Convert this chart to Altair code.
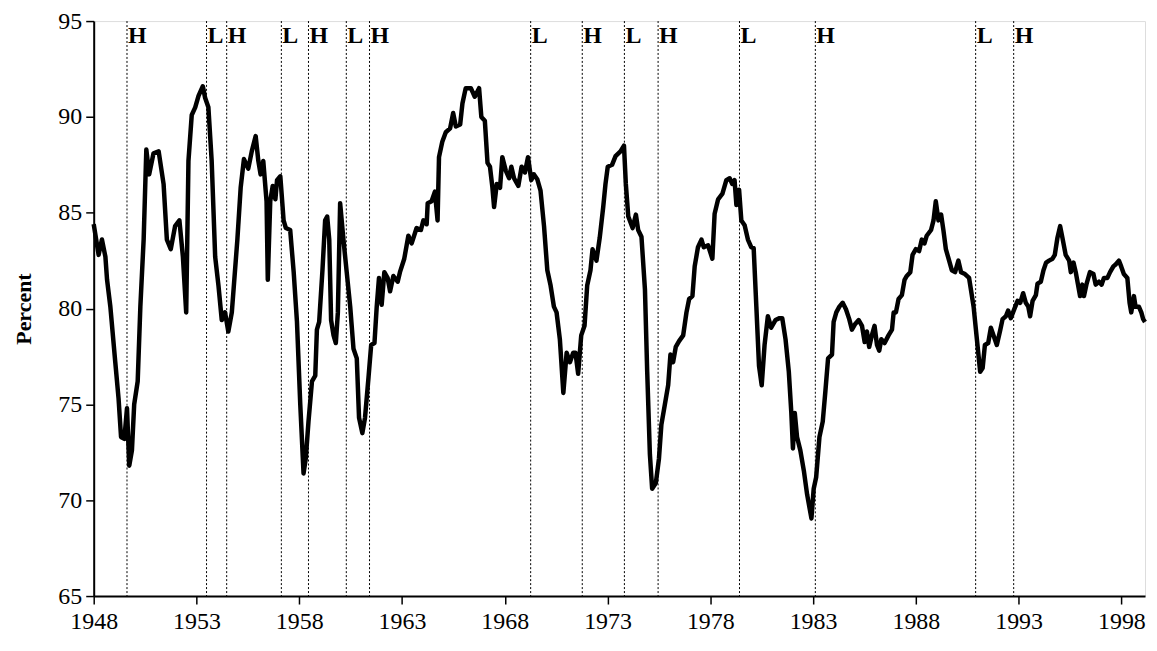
import altair as alt
import pandas as pd

# Capacity utilization (percent)
years = [
    1948.00, 1948.24, 1948.40, 1948.57, 1948.65, 1948.81, 1949.05, 1949.21, 1949.33, 1949.49,
    1949.62, 1949.73, 1949.86, 1949.97, 1950.14, 1950.27, 1950.43, 1950.56, 1950.70, 1950.91,
    1951.16, 1951.40, 1951.56, 1951.75, 1951.96, 1952.17, 1952.34, 1952.50, 1952.61, 1952.77,
    1952.94, 1953.10, 1953.31, 1953.42, 1953.58, 1953.74, 1953.91, 1954.07, 1954.23, 1954.39,
    1954.55, 1954.72, 1954.99, 1955.15, 1955.31, 1955.52, 1955.69, 1955.88, 1956.01, 1956.12,
    1956.25, 1956.41, 1956.47, 1956.59, 1956.71, 1956.84, 1956.92, 1957.08, 1957.24, 1957.35,
    1957.56, 1957.73, 1957.89, 1958.05, 1958.21, 1958.32, 1958.45, 1958.62, 1958.78, 1958.86,
    1958.97, 1959.13, 1959.26, 1959.36, 1959.46, 1959.55, 1959.67, 1959.78, 1959.88, 1959.99,
    1960.15, 1960.31, 1960.48, 1960.64, 1960.80, 1960.91, 1961.07, 1961.20, 1961.37, 1961.50,
    1961.66, 1961.77, 1961.88, 1962.01, 1962.14, 1962.30, 1962.42, 1962.58, 1962.79, 1962.90,
    1963.11, 1963.31, 1963.47, 1963.71, 1963.92, 1964.04, 1964.20, 1964.25, 1964.44, 1964.60,
    1964.73, 1964.80, 1964.96, 1965.13, 1965.34, 1965.49, 1965.62, 1965.83, 1965.94, 1966.10,
    1966.35, 1966.54, 1966.75, 1966.86, 1967.03, 1967.16, 1967.28, 1967.40, 1967.48, 1967.61,
    1967.77, 1967.88, 1968.05, 1968.21, 1968.32, 1968.45, 1968.66, 1968.82, 1968.98, 1969.13,
    1969.29, 1969.42, 1969.58, 1969.74, 1969.91, 1970.07, 1970.23, 1970.39, 1970.52, 1970.68,
    1970.85, 1971.01, 1971.17, 1971.33, 1971.44, 1971.57, 1971.72, 1971.88, 1972.01, 1972.17,
    1972.27, 1972.46, 1972.62, 1972.79, 1972.90, 1973.01, 1973.22, 1973.39, 1973.63, 1973.80,
    1973.89, 1974.01, 1974.22, 1974.38, 1974.49, 1974.65, 1974.82, 1974.93, 1975.06, 1975.17,
    1975.35, 1975.50, 1975.62, 1975.79, 1975.95, 1976.06, 1976.19, 1976.32, 1976.48, 1976.68,
    1976.84, 1976.97, 1977.13, 1977.24, 1977.40, 1977.57, 1977.68, 1977.89, 1978.10, 1978.21,
    1978.38, 1978.59, 1978.78, 1978.94, 1979.07, 1979.18, 1979.27, 1979.40, 1979.51, 1979.67,
    1979.83, 1979.99, 1980.11, 1980.24, 1980.37, 1980.50, 1980.64, 1980.80, 1980.96, 1981.17,
    1981.37, 1981.50, 1981.66, 1981.82, 1981.94, 1982.02, 1982.11, 1982.22, 1982.38, 1982.55,
    1982.71, 1982.92, 1983.03, 1983.15, 1983.31, 1983.47, 1983.60, 1983.73, 1983.92, 1984.00,
    1984.13, 1984.28, 1984.44, 1984.60, 1984.76, 1984.89, 1985.05, 1985.22, 1985.38, 1985.51,
    1985.62, 1985.73, 1985.86, 1985.99, 1986.11, 1986.22, 1986.32, 1986.48, 1986.67, 1986.84,
    1986.92, 1987.03, 1987.16, 1987.32, 1987.45, 1987.56, 1987.73, 1987.84, 1988.00, 1988.16,
    1988.29, 1988.42, 1988.53, 1988.74, 1988.86, 1988.97, 1989.10, 1989.23, 1989.34, 1989.46,
    1989.62, 1989.75, 1989.91, 1990.07, 1990.20, 1990.39, 1990.59, 1990.81, 1990.97, 1991.13,
    1991.25, 1991.36, 1991.52, 1991.65, 1991.78, 1991.94, 1992.11, 1992.22, 1992.38, 1992.49,
    1992.62, 1992.79, 1992.95, 1993.08, 1993.22, 1993.35, 1993.47, 1993.56, 1993.68, 1993.84,
    1993.92, 1994.08, 1994.21, 1994.34, 1994.48, 1994.65, 1994.76, 1994.89, 1995.02, 1995.13,
    1995.29, 1995.46, 1995.54, 1995.67, 1995.78, 1995.89, 1995.99, 1996.10, 1996.18, 1996.31,
    1996.47, 1996.64, 1996.75, 1996.91, 1997.04, 1997.15, 1997.32, 1997.45, 1997.61, 1997.72,
    1997.88, 1997.99, 1998.12, 1998.29, 1998.40, 1998.48, 1998.61, 1998.69, 1998.85, 1998.97,
    1999.06, 1999.15,
]
values = [
    84.4, 82.8, 83.6, 82.7, 81.5, 80.1, 77.2, 75.3, 73.3, 73.2,
    74.8, 71.8, 72.6, 75.0, 76.2, 80.1, 83.6, 88.3, 87.0, 88.1,
    88.2, 86.5, 83.6, 83.1, 84.3, 84.6, 82.7, 79.8, 87.7, 90.1,
    90.5, 91.1, 91.6, 91.0, 90.5, 87.7, 82.7, 81.2, 79.4, 79.8,
    78.8, 79.8, 83.6, 86.3, 87.8, 87.3, 88.2, 89.0, 87.7, 87.0,
    87.7, 85.6, 81.5, 85.6, 86.4, 85.7, 86.7, 86.9, 84.6, 84.2,
    84.1, 81.9, 79.3, 75.0, 71.4, 72.2, 74.1, 76.2, 76.5, 78.9,
    79.3, 82.0, 84.6, 84.8, 83.6, 79.4, 78.6, 78.2, 79.8, 85.5,
    83.6, 81.9, 80.1, 77.9, 77.4, 74.3, 73.5, 74.3, 76.4, 78.1,
    78.2, 80.1, 81.6, 80.2, 81.9, 81.6, 80.9, 81.7, 81.4, 81.9,
    82.6, 83.8, 83.4, 84.2, 84.1, 84.6, 84.4, 85.5, 85.6, 86.1,
    84.6, 87.9, 88.7, 89.2, 89.4, 90.2, 89.5, 89.6, 90.7, 91.5,
    91.5, 91.05, 91.5, 90.0, 89.8, 87.6, 87.4, 86.3, 85.3, 86.5,
    86.3, 87.9, 87.2, 86.8, 87.4, 86.8, 86.4, 87.4, 87.1, 87.9,
    86.7, 87.0, 86.75, 86.15, 84.3, 82.0, 81.2, 80.1, 79.8, 78.4,
    75.6, 77.7, 77.2, 77.7, 77.7, 76.6, 78.6, 79.1, 81.2, 82.0,
    83.1, 82.5, 83.7, 85.3, 86.5, 87.4, 87.5, 87.95, 88.2, 88.5,
    86.5, 84.8, 84.2, 84.9, 84.1, 83.75, 81.0, 76.7, 72.4, 70.6,
    70.9, 72.15, 73.95, 75.0, 76.0, 77.6, 77.2, 78.0, 78.3, 78.6,
    79.8, 80.5, 80.65, 82.2, 83.2, 83.6, 83.2, 83.3, 82.6, 84.95,
    85.7, 86.0, 86.7, 86.8, 86.5, 86.7, 85.4, 86.2, 84.6, 84.35,
    83.6, 83.2, 83.15, 80.1, 77.0, 76.0, 78.1, 79.6, 79.0, 79.4,
    79.5, 79.5, 78.4, 76.7, 74.6, 72.7, 74.55, 73.3, 72.6, 71.55,
    70.3, 69.05, 70.6, 71.2, 73.3, 74.1, 75.7, 77.4, 77.6, 79.3,
    79.8, 80.1, 80.3, 79.96, 79.45, 78.9, 79.2, 79.4, 79.1, 78.25,
    78.8, 78.0, 78.6, 79.1, 78.1, 77.8, 78.4, 78.2, 78.6, 78.9,
    79.8, 79.8, 80.5, 80.7, 81.5, 81.7, 81.9, 82.8, 83.1, 83.0,
    83.6, 83.4, 83.8, 84.1, 84.6, 85.6, 84.6, 84.9, 84.1, 83.1,
    82.5, 82.0, 81.9, 82.5, 81.9, 81.8, 81.6, 80.1, 78.4, 76.7,
    76.9, 78.1, 78.2, 79.0, 78.6, 78.1, 78.9, 79.45, 79.6, 79.9,
    79.5, 79.97, 80.4, 80.3, 80.8, 80.3, 80.1, 79.6, 80.4, 80.7,
    81.3, 81.4, 82.0, 82.4, 82.5, 82.6, 82.8, 83.7, 84.3, 83.7,
    82.8, 82.5, 81.9, 82.4, 81.9, 81.25, 80.65, 81.25, 80.65, 81.3,
    81.9, 81.8, 81.25, 81.4, 81.25, 81.6, 81.6, 81.9, 82.2, 82.3,
    82.5, 82.2, 81.8, 81.6, 80.3, 79.8, 80.65, 80.1, 80.1, 79.8,
    79.45, 79.3,
]

# Marker lines (H / L)
marker_years = [1949.62, 1953.49, 1954.47, 1957.13, 1958.45, 1960.29, 1961.42,
                1969.26, 1971.77, 1973.82, 1975.46, 1979.42, 1983.11, 1990.91, 1992.76]
marker_labels = ["H", "L", "H", "L", "H", "L", "H", "L", "H", "L", "H", "L", "H", "L", "H"]

x_ticks = [1948, 1953, 1958, 1963, 1968, 1973, 1978, 1983, 1988, 1993, 1998]
y_ticks = [65, 70, 75, 80, 85, 90, 95]

FONT = "Liberation Serif"

df = pd.DataFrame({"year": years, "value": values})
mk = pd.DataFrame({"year": marker_years, "label": marker_labels})

xscale = alt.Scale(domain=[1948, 1999.15], nice=False, zero=False)
yscale = alt.Scale(domain=[65, 95], nice=False, zero=False)

xaxis = alt.Axis(values=x_ticks, format="d", title=None, grid=False,
                 labelFont=FONT, labelFontSize=24, labelColor="black",
                 labelFlush=False, labelOverlap=False,
                 tickSize=8, tickColor="black", tickWidth=1.5,
                 domainColor="black", domainWidth=2, labelPadding=6)
yaxis = alt.Axis(values=y_ticks, title="Percent", grid=False,
                 labelFont=FONT, labelFontSize=24, labelColor="black",
                 labelFlush=False, labelOverlap=False,
                 tickSize=8, tickColor="black", tickWidth=1.5,
                 domainColor="black", domainWidth=2, labelPadding=4,
                 titleFont=FONT, titleFontSize=22, titleFontWeight="bold",
                 titleColor="black", titlePadding=22)

rules = alt.Chart(mk).mark_rule(color="black", strokeWidth=1, strokeDash=[2, 2]).encode(
    x=alt.X("year:Q", scale=xscale, axis=xaxis)
)

labels = alt.Chart(mk).mark_text(
    align="left", baseline="middle", dx=1, font=FONT, fontSize=24,
    fontWeight="bold", color="black"
).encode(
    x=alt.X("year:Q", scale=xscale),
    y=alt.value(15),
    text="label:N",
)

line = alt.Chart(df).mark_line(color="black", strokeWidth=4.5, strokeJoin="round").encode(
    x=alt.X("year:Q", scale=xscale, axis=xaxis),
    y=alt.Y("value:Q", scale=yscale, axis=yaxis),
)

chart = alt.layer(rules, line, labels).properties(
    width=1055, height=577,
    autosize=alt.AutoSizeParams(type="none"),
    padding={"left": 86, "top": 12, "right": 4, "bottom": 46},
).configure_view(stroke="black", strokeWidth=1.5).configure(background="white")

chart.save("out.html", embed_options={"renderer": "svg", "actions": False})
